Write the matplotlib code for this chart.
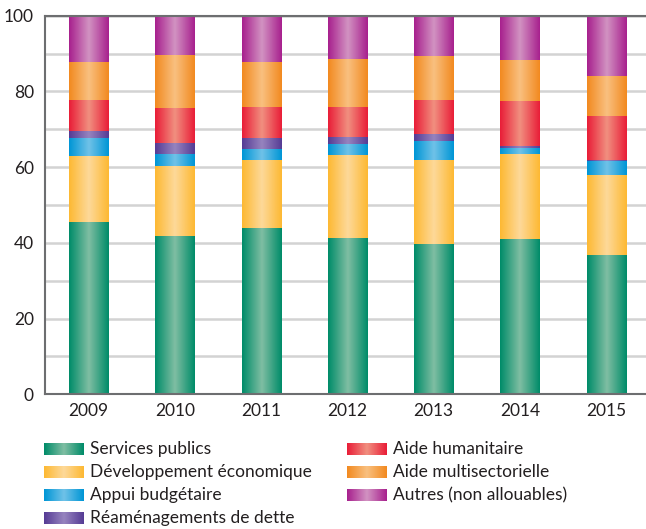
import numpy as np
import matplotlib
matplotlib.use("Agg")
import matplotlib.pyplot as plt
from matplotlib.colors import LinearSegmentedColormap

plt.rcParams['font.family'] = ['Lato', 'DejaVu Sans']

years = ['2009', '2010', '2011', '2012', '2013', '2014', '2015']
services_publics = [45.5, 41.8, 43.9, 41.3, 39.7, 41.0, 36.8]
dev_economique = [17.4, 18.5, 18.0, 21.9, 22.2, 22.5, 21.1]
appui_budgetaire = [4.8, 3.2, 2.9, 2.9, 5.0, 1.6, 3.7]
reamenagements = [1.8, 2.9, 2.9, 1.8, 1.8, 0.5, 0.3]
aide_humanitaire = [8.2, 9.2, 8.2, 8.0, 9.0, 11.9, 11.6]
aide_multisect = [10.1, 14.0, 11.9, 12.7, 11.7, 10.8, 10.6]
autres = [12.2, 10.4, 12.2, 11.4, 10.6, 11.7, 15.9]

series = [
    ('Services publics', services_publics, '#008C69', '#80BEA3'),
    ('Développement économique', dev_economique, '#FDB933', '#FDD99A'),
    ('Appui budgétaire', appui_budgetaire, '#0096D6', '#70C2E8'),
    ('Réaménagements de dette', reamenagements, '#563C95', '#9784BF'),
    ('Aide humanitaire', aide_humanitaire, '#E91E38', '#F19080'),
    ('Aide multisectorielle', aide_multisect, '#F28A20', '#F9C080'),
    ('Autres (non allouables)', autres, '#A8218E', '#D293C2'),
]

def grad_cmap(dark, light):
    return LinearSegmentedColormap.from_list('g', [dark, light, dark])

grad = np.linspace(0, 1, 64).reshape(1, -1)

fig = plt.figure(figsize=(6.46, 5.29), dpi=100)
ax = fig.add_axes([45/646, 1 - 394.3/529, 601/646, 378.6/529])

x = np.arange(len(years))
w = 0.452
bottom = np.zeros(len(years))
for name, vals, dark, light in series:
    cm = grad_cmap(dark, light)
    bars = ax.bar(x, vals, w, bottom=bottom, color=dark, linewidth=0, zorder=2)
    for b in bars:
        x0, y0 = b.get_x(), b.get_y()
        im = ax.imshow(grad, cmap=cm, aspect='auto', zorder=3,
                       extent=[x0, x0 + b.get_width(), y0, y0 + b.get_height()])
        im.set_clip_path(b)
    bottom += np.array(vals)

ax.set_xlim(-0.504, 6.46)
ax.set_ylim(0, 100)
ax.set_yticks(range(0, 101, 20))
ax.set_yticks(range(0, 101, 10), minor=True)
ax.set_xticks(x)
ax.set_xticklabels(years)
ax.tick_params(axis='both', which='both', length=0, labelsize=12.5, colors='#231F20')
ax.tick_params(axis='y', pad=8)
ax.tick_params(axis='x', pad=6)
ax.grid(True, axis='y', which='both', color='#D3D3D3', linewidth=1.8, zorder=0)
ax.set_axisbelow(True)
for s in ['left', 'top', 'bottom']:
    ax.spines[s].set_color('#6D6E70')
    ax.spines[s].set_linewidth(1.5)
    ax.spines[s].set_zorder(5)
ax.spines['right'].set_visible(False)

# legend drawn by hand so the swatches keep the gradient
lg = fig.add_axes([0, 0, 1, 1])
lg.axis('off')
rows = [449.3, 471.7, 495, 517.7]
for i, (name, vals, dark, light) in enumerate(series):
    if i < 4:
        sx, sy, tx = 44, rows[i], 90
    else:
        sx, sy, tx = 346.7, rows[i - 4], 392.7
    lg.imshow(grad, cmap=grad_cmap(dark, light), aspect='auto',
              extent=[sx, sx + 39.3, sy + 6, sy - 6])
    lg.text(tx, sy, name, fontsize=12.5, va='center', ha='left', color='#231F20')
lg.set_xlim(0, 646)
lg.set_ylim(529, 0)

fig.savefig('out.png', dpi=100)
